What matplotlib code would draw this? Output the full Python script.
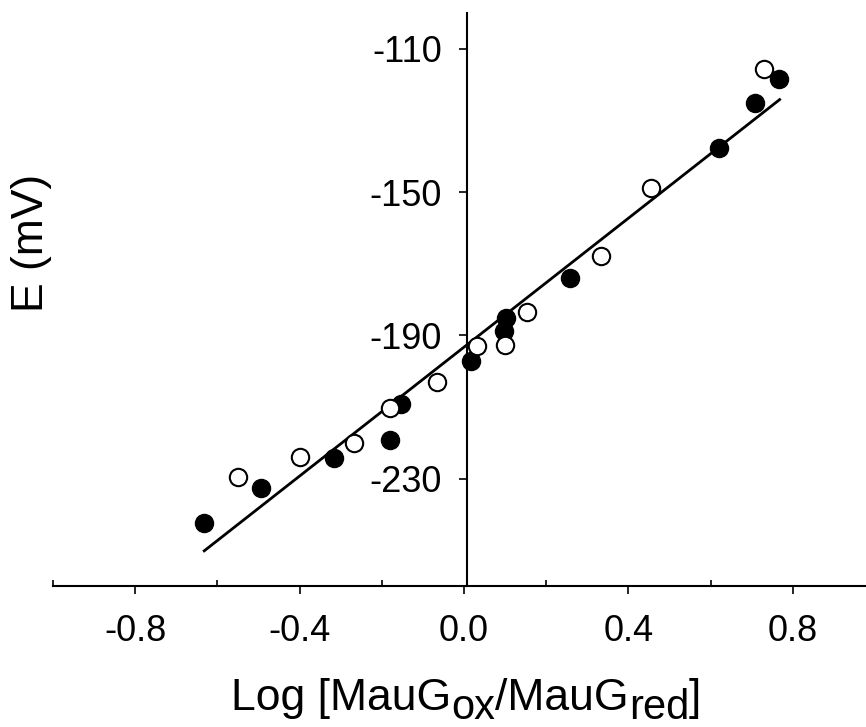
import numpy as np
import matplotlib
matplotlib.use("Agg")
import matplotlib.pyplot as plt
from matplotlib.ticker import MultipleLocator

plt.rcParams['font.family'] = ['Liberation Sans', 'DejaVu Sans']
plt.rcParams['axes.unicode_minus'] = False

# Titration points: log ratio vs measured potential
log_filled = [-0.632, -0.495, -0.317, -0.180, -0.154, 0.017, 0.098, 0.102, 0.259, 0.620, 0.707, 0.766]
e_filled = [-242.3, -232.5, -224.2, -219.1, -209.1, -197.1, -188.7, -185.1, -173.9, -137.6, -125.1, -118.4]

log_open = [-0.551, -0.398, -0.268, -0.180, -0.066, 0.032, 0.100, 0.154, 0.334, 0.456, 0.729]
e_open = [-229.7, -223.9, -220.0, -210.2, -202.9, -192.9, -192.6, -183.4, -167.8, -148.8, -115.6]

# Linear fit (mV per decade, midpoint potential)
fit_slope = 90.0
fit_intercept = -193.3
fit_range = [-0.632, 0.768]

yticks = [-110, -150, -190, -230]

W, H = 866, 727
fig = plt.figure(figsize=(W / 100, H / 100), dpi=100)
ax = fig.add_axes([53 / W, 141 / H, 822 / W, 573 / H])

fx = np.array(fit_range)
ax.plot(fx, fit_slope * fx + fit_intercept, color='black', lw=2, zorder=2)
ax.plot(log_filled, e_filled, ls='', marker='o', ms=13, mfc='black', mec='black', zorder=3)
ax.plot(log_open, e_open, ls='', marker='o', ms=12.5, mfc='white', mec='black', mew=1.5, zorder=3)

ax.set_xlim(-1.0, 1.0)
ax.set_ylim(-260, -100)

for side in ('top', 'right'):
    ax.spines[side].set_visible(False)
ax.spines['left'].set_position(('data', 0.007))
ax.spines['left'].set_linewidth(1.5)
ax.spines['bottom'].set_linewidth(1.5)

ax.xaxis.set_major_locator(MultipleLocator(0.4))
ax.xaxis.set_minor_locator(MultipleLocator(0.4, offset=0.2))
ax.xaxis.set_major_formatter(plt.FuncFormatter(lambda x, _: '{:.1f}'.format(x)))
ax.tick_params(axis='x', which='major', direction='out', length=6, width=1.2, labelsize=26, pad=14)
ax.tick_params(axis='x', which='minor', direction='in', length=4, width=1.2)

ax.set_yticks(yticks)
ax.tick_params(axis='y', which='major', direction='out', length=6, width=1.2, labelsize=26, pad=12)

# x label assembled from pieces so the subscripts keep near full size and sit lower
pieces = [('Log [MauG', 0, 32), ('ox', -9, 30), ('/MauG', 0, 32), ('red', -9, 30), (']', 0, 32)]
renderer = fig.canvas.get_renderer()
base_y = 17
texts = []
for s, dy, fs in pieces:
    t = fig.text(0, (base_y + dy) / H, s, fontsize=fs, ha='left', va='baseline')
    texts.append(t)
widths = [t.get_window_extent(renderer).width for t in texts]
x = 466 - sum(widths) / 2
for t, w in zip(texts, widths):
    t.set_x(x / W)
    x += w

fig.text(31 / W, 1 - 243 / H, 'E (mV)', rotation=90, ha='center', va='center', fontsize=32)

fig.savefig('out.png', dpi=100)
